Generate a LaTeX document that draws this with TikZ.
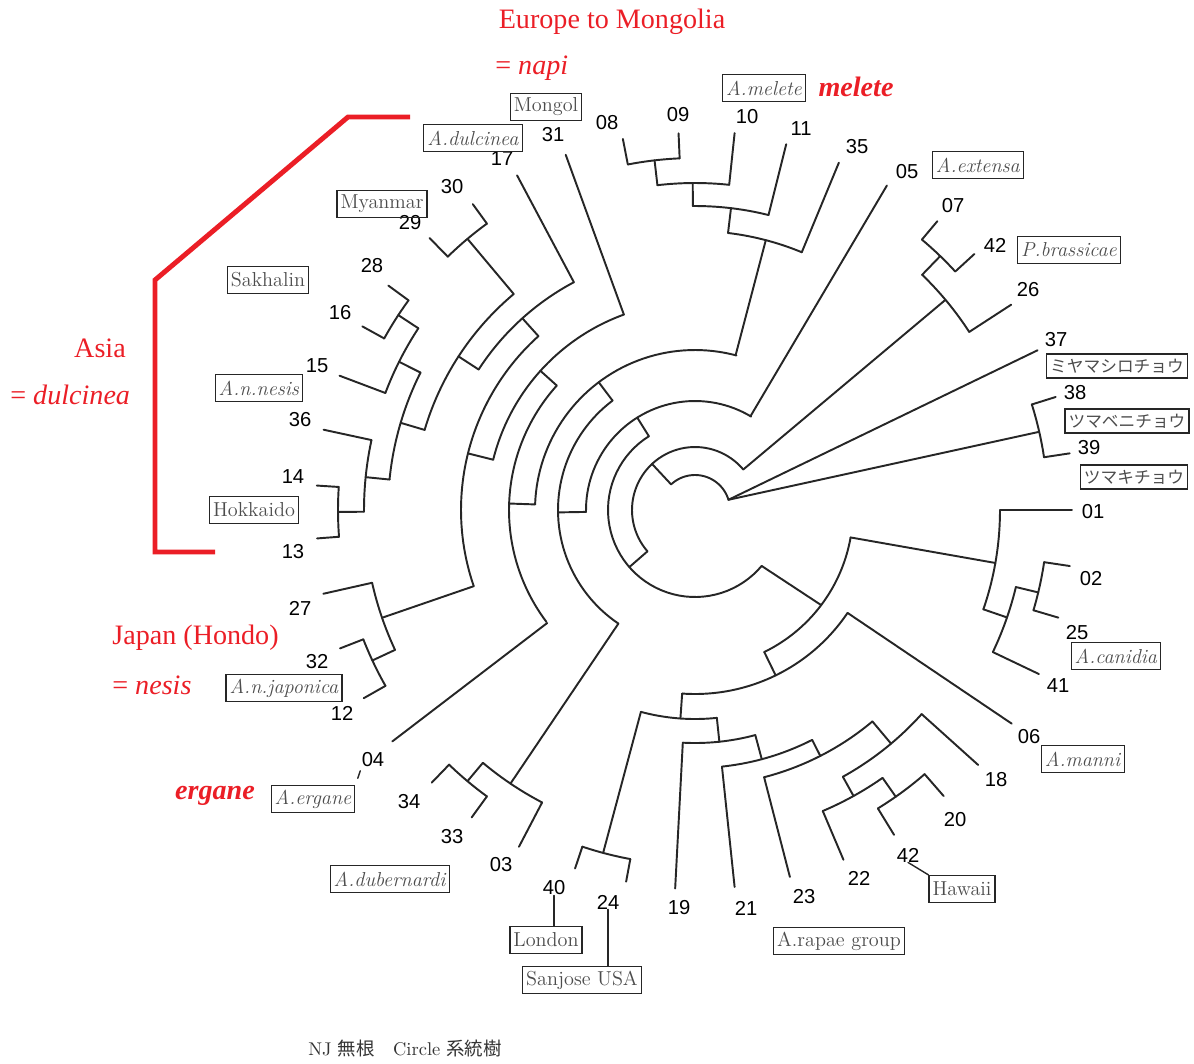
\documentclass[tikz,border=0pt]{standalone}
\usepackage{fontspec}
\newfontfamily\numfont{Liberation Sans}
\newfontfamily\notefont{Liberation Serif}
\newfontfamily\jpfont{Noto Sans CJK JP}
\usetikzlibrary{calc}
\definecolor{annot}{RGB}{235,30,38}

% polar helpers about the tree centre (695,510), angles counter-clockwise
\newcommand{\brarc}[3]{\draw[branch] plot[domain=#2:#3,samples=50] ({695+#1*cos(\x)},{510-#1*sin(\x)});}
\newcommand{\brline}[3]{\draw[branch] ({695+#2*cos(#1)},{510-#2*sin(#1)}) -- ({695+#3*cos(#1)},{510-#3*sin(#1)});}
\newcommand{\brseg}[4]{\draw[branch] ({695+#2*cos(#1)},{510-#2*sin(#1)}) -- ({695+#4*cos(#3)},{510-#4*sin(#3)});}

\tikzset{
  branch/.style={line width=1.1pt,black!85,line cap=round,line join=round},
  num/.style={font=\numfont\fontsize{11.5}{12}\selectfont,inner sep=0pt},
  tag/.style={draw=black!85,line width=0.7pt,text=black!70,inner sep=2pt,
    minimum height=0.54cm,font=\fontsize{11.5}{13}\selectfont},
  jtag/.style={tag,minimum height=0.48cm,font=\jpfont\fontsize{9.5}{11}\selectfont},
  note/.style={text=annot,inner sep=0pt,font=\notefont\fontsize{16}{18}\selectfont},
}

\begin{document}
\begin{tikzpicture}[x=0.02cm,y=-0.02cm]
\useasboundingbox (0,0) rectangle (1194,1063);

% backbone
\brarc{35}{17}{132}
\brline{133}{35}{63}
\brarc{63}{40}{221}
\brline{221}{63}{87}
\brarc{87}{122}{320}
\brline{122}{87}{109}
\brarc{109}{59}{181}
\brline{181}{109}{137}
\brarc{137}{127}{236}
\brline{127}{137}{160}
\brarc{160}{75}{178}
\brline{178}{160}{186}
\brarc{186}{138}{217}
\brline{138}{186}{208}
\brarc{208}{110}{166}
\brline{166}{208}{234}
\brarc{234}{132}{199}

% 37, 38, 39
\brseg{17}{35}{25}{378}
\brseg{17}{35}{12.8}{353}
\brarc{353}{8.6}{17.4}
\brline{17.4}{353}{378}
\brline{8.6}{353}{379}

% brassicae
\brline{40}{63}{327}
\brarc{327}{33}{46}
\brline{33}{327}{377}
\brline{46}{327}{353}
\brarc{353}{42.5}{50}
\brline{50}{353}{377}
\brline{42.5}{353}{379}

% 05
\brline{59.4}{109}{377}

% melete
\brline{75.3}{160}{279}
\brarc{279}{67.5}{83.2}
\brline{67.5}{279}{376}
\brline{83.2}{279}{304}
\brarc{304}{76}{90.4}
\brline{76}{304}{377}
\brline{90.4}{304}{327}
\brarc{327}{84}{96.6}
\brline{84}{327}{379}
\brline{96.6}{327}{352}
\brarc{352}{92.5}{101}
\brline{101}{352}{378}
\brline{92.5}{352}{377}

% Asia
\brline{110}{208}{378}
\brline{132}{234}{258}
\brarc{258}{118}{147}
\brline{118}{258}{379}
\brline{147}{258}{282}
\brarc{282}{130}{163.5}
\brline{130}{282}{354}
\brarc{354}{126}{134.3}
\brline{126}{354}{378}
\brline{134.3}{354}{380}
\brline{163.5}{282}{307}
\brarc{307}{153.4}{174.3}
\brline{153.4}{307}{331}
\brarc{331}{146.7}{159.3}
\brline{159.3}{331}{380}
\brline{146.7}{331}{355}
\brarc{355}{143.8}{151.1}
\brline{143.8}{355}{380}
\brline{151.1}{355}{380}
\brline{174.3}{307}{331}
\brarc{331}{167.8}{180.3}
\brline{167.8}{331}{380}
\brline{180.3}{331}{357}
\brarc{357}{176.3}{184.3}
\brline{176.3}{357}{379}
\brline{184.3}{357}{379}

% japonica
\brline{199}{234}{331}
\brarc{331}{192.7}{205}
\brline{192.7}{331}{381}
\brline{205}{331}{356}
\brarc{356}{201.3}{209.6}
\brline{201.3}{356}{381}
\brline{209.6}{356}{381}

% ergane
\brline{217.4}{186}{381}

% dubernardi
\brline{236}{137}{330}
\brarc{330}{230}{242.4}
\brline{242.4}{330}{380}
\brline{230}{330}{354}
\brarc{354}{226}{234}
\brline{226}{354}{379}
\brline{234}{354}{380}

% canidia, manni, rapae
\brseg{320}{87}{323}{158}
\brarc{158}{296}{350}
\brline{350}{158}{305}
\brarc{305}{341}{360}
\brline{360}{305}{377}
\brline{341}{305}{330}
\brarc{330}{334.5}{346.5}
\brline{334.5}{330}{381}
\brline{346.5}{330}{353}
\brarc{353}{343.5}{351.5}
\brline{351.5}{353}{379}
\brline{343.5}{353}{379}
\brline{296}{158}{184}
\brarc{184}{266}{326}
\brline{326}{184}{382}
\brline{266}{184}{209}
\brarc{209}{255}{276}
\brline{255}{209}{355}
\brarc{355}{251.5}{259.5}
\brline{251.5}{355}{378}
\brline{259.5}{355}{378}
\brline{276}{209}{233}
\brarc{233}{267}{285}
\brline{267}{233}{379}
\brline{285}{233}{258}
\brarc{258}{276}{297}
\brline{276}{258}{379}
\brline{297}{258}{276}
\brarc{276}{284.5}{310}
\brline{284.5}{276}{379}
\brline{310}{276}{305}
\brarc{305}{299}{318}
\brline{318}{305}{381}
\brline{299}{305}{327}
\brarc{327}{293}{305}
\brline{293}{327}{380}
\brline{305}{327}{350}
\brarc{350}{301.5}{311}
\brline{301.5}{350}{381}
\brline{311}{350}{379}

% leaf numbers
\node[num] (n31) at (553,135) {31};
\node[num] (n17) at (502,159) {17};
\node[num] (n30) at (452,187) {30};
\node[num] (n29) at (410,223) {29};
\node[num] (n28) at (372,266) {28};
\node[num] (n16) at (340,313) {16};
\node[num] (n15) at (317,366) {15};
\node[num] (n36) at (300,420) {36};
\node[num] (n14) at (293,477) {14};
\node[num] (n13) at (293,552) {13};
\node[num] (n27) at (300,608) {27};
\node[num] (n32) at (317,662) {32};
\node[num] (n12) at (342,713) {12};
\node[num] (n04) at (373,760) {04};
\node[num] (n34) at (409,802) {34};
\node[num] (n33) at (452,837) {33};
\node[num] (n03) at (501,865) {03};
\node[num] (n40) at (554,888) {40};
\node[num] (n24) at (608,902) {24};
\node[num] (n19) at (679,908) {19};
\node[num] (n21) at (746,908) {21};
\node[num] (n23) at (804,897) {23};
\node[num] (n22) at (859,878) {22};
\node[num] (n42b) at (908,855) {42};
\node[num] (n20) at (955,820) {20};
\node[num] (n18) at (996,780) {18};
\node[num] (n06) at (1029,737) {06};
\node[num] (n41) at (1058,686) {41};
\node[num] (n25) at (1077,633) {25};
\node[num] (n02) at (1091,579) {02};
\node[num] (n01) at (1093,512) {01};
\node[num] (n39) at (1089,448) {39};
\node[num] (n38) at (1075,393) {38};
\node[num] (n37) at (1056,340) {37};
\node[num] (n26) at (1028,290) {26};
\node[num] (n42a) at (995,245) {42};
\node[num] (n07) at (953,206) {07};
\node[num] (n05) at (907,172) {05};
\node[num] (n35) at (857,147) {35};
\node[num] (n11) at (801,129) {11};
\node[num] (n10) at (747,117) {10};
\node[num] (n09) at (678,115) {09};
\node[num] (n08) at (607,123) {08};

% boxed names
\node[tag] (bMongol) at (546,107) {Mongol};
\node[tag] (bDulcinea) at (473,138) {\textit{A.dulcinea}};
\node[tag] (bMyanmar) at (382,204) {Myanmar};
\node[tag] (bSakhalin) at (268,280) {Sakhalin};
\node[tag] (bNesis) at (259,388) {\textit{A.n.nesis}};
\node[tag] (bHokkaido) at (254,510) {Hokkaido};
\node[tag] (bJaponica) at (284,688) {\textit{A.n.japonica}};
\node[tag] (bErgane) at (313,799) {\textit{A.ergane}};
\node[tag] (bDubernardi) at (390,879) {\textit{A.dubernardi}};
\node[tag] (bLondon) at (546,940) {London};
\node[tag] (bSanjose) at (582,980) {Sanjose USA};
\node[tag] (bRapae) at (839,941) {A.rapae group};
\node[tag] (bHawaii) at (962,889) {Hawaii};
\node[tag] (bManni) at (1083,759) {\textit{A.manni}};
\node[tag] (bCanidia) at (1116,656) {\textit{A.canidia}};
\node[jtag] (bTsumaki) at (1134,477) {ツマキチョウ};
\node[jtag] (bTsumabeni) at (1127,421) {ツマベニチョウ};
\node[jtag] (bMiyama) at (1117,366) {ミヤマシロチョウ};
\node[tag] (bBrassicae) at (1069,250) {\textit{P.brassicae}};
\node[tag] (bExtensa) at (978,165) {\textit{A.extensa}};
\node[tag] (bMelete) at (764,88) {\textit{A.melete}};

% pointers from numbers to boxes
\draw[branch,line width=0.8pt] (n40.south) -- (n40.south |- bLondon.north);
\draw[branch,line width=0.8pt] (n24.south) -- (n24.south |- bSanjose.north);
\draw[branch,line width=0.8pt] (n42b.south) -- (bHawaii.north west);
\draw[branch,line width=0.8pt,shorten <=2pt,shorten >=4pt] (n04.south west) -- (bErgane.north east);

% red notes
\node[note] (tEurope) at (612,22) {Europe to Mongolia};
\node[note,anchor=west] (tNapi) at (495,68) {= \textit{napi}};
\node[note] (tMelete) at (856,87) {\textbf{\textit{melete}}};
\node[note] (tAsia) at (100,348) {Asia};
\node[note,anchor=west] (tDulcinea) at (10,395) {= \textit{dulcinea}};
\node[note,anchor=west] (tJapan) at (112,638) {Japan (Hondo)};
\node[note,anchor=west] (tNesis) at (112,685) {= \textit{nesis}};
\node[note] (tErgane) at (215,796) {\textbf{\textit{ergane}}};
\draw[annot,line width=2.8pt] (410,117) -- (348,117) -- (155,280) -- (155,552) -- (215,552);

% caption
\node[anchor=west,text=black!80,inner sep=0pt,font=\fontsize{10.5}{13}\selectfont] (caption) at (308,1049)
  {NJ {\jpfont 無根}\quad Circle {\jpfont 系統樹}};
\end{tikzpicture}
\end{document}
